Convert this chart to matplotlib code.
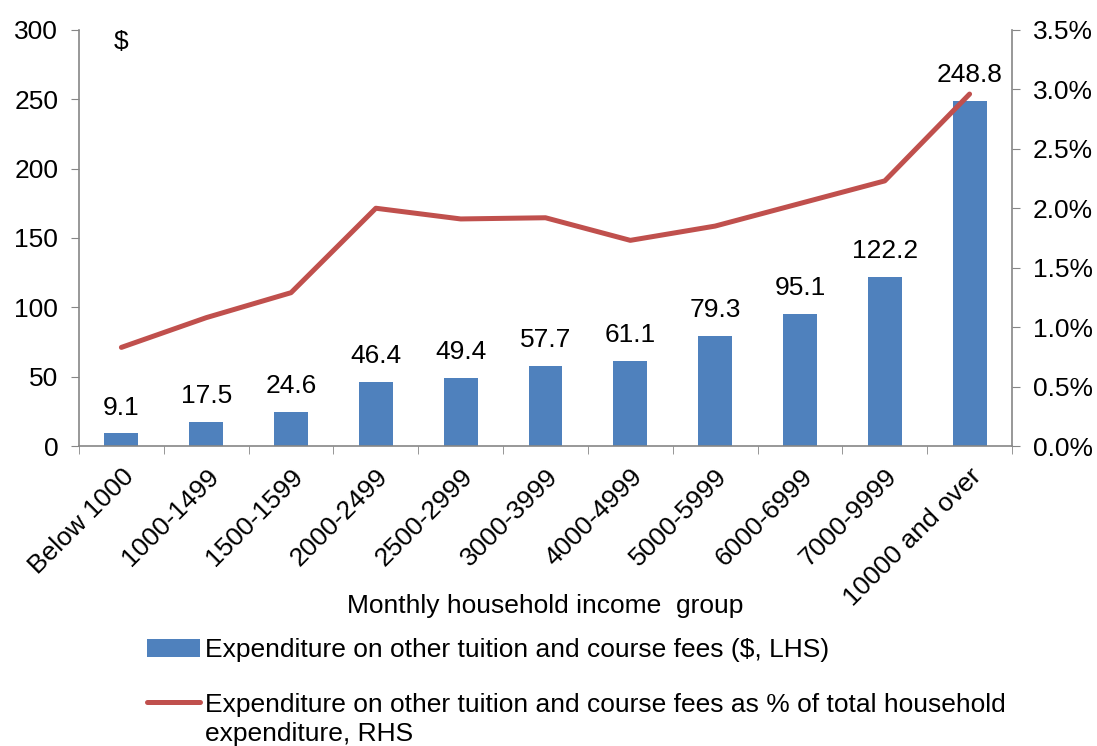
import matplotlib.pyplot as plt
import numpy as np
from matplotlib.ticker import FuncFormatter
from matplotlib.lines import Line2D

plt.rcParams['font.family'] = ['Liberation Sans', 'DejaVu Sans']

groups = ["Below 1000", "1000-1499", "1500-1599", "2000-2499", "2500-2999",
          "3000-3999", "4000-4999", "5000-5999", "6000-6999", "7000-9999",
          "10000 and over"]
spend = [9.1, 17.5, 24.6, 46.4, 49.4, 57.7, 61.1, 79.3, 95.1, 122.2, 248.8]
share = [0.83, 1.08, 1.29, 2.0, 1.91, 1.92, 1.73, 1.85, 2.04, 2.23, 2.96]

blue = "#4F81BD"
red = "#C0504D"
grey = "#868686"
fs = 19

fig = plt.figure(figsize=(10.97, 7.46), dpi=100)
ax = fig.add_axes([0.072, 0.402, 0.8505, 0.558])
x = np.arange(len(groups))

bars = ax.bar(x, spend, width=0.4, color=blue, zorder=2)
for xi, v in zip(x, spend):
    ax.annotate("%.1f" % v, (xi, v), xytext=(0, 10), textcoords="offset points",
                ha="center", va="bottom", fontsize=fs)

ax.set_xlim(-0.5, len(groups) - 0.5)
ax.set_ylim(0, 300)
ax.set_yticks(range(0, 301, 50))
ax.set_xticks(x)
ax.set_xticklabels(groups, rotation=45, ha="right", rotation_mode="anchor",
                   fontsize=fs)
ax.set_xticks(np.arange(-0.5, len(groups), 1), minor=True)
ax.tick_params(axis="x", which="major", length=0, pad=13)
ax.tick_params(axis="x", which="minor", length=6, color=grey, direction="out")
ax.tick_params(axis="y", labelsize=fs, length=6, color=grey, pad=9)
ax.text(0.5 / 11, 1.0, "$", transform=ax.transAxes, fontsize=fs,
        ha="center", va="top")
ax.set_xlabel("Monthly household income  group", fontsize=fs)
ax.xaxis.set_label_coords(0.5, -0.355)

ax2 = ax.twinx()
line, = ax2.plot(x, share, color=red, lw=3.6, solid_capstyle="round",
                 zorder=3)
ax2.set_ylim(0, 3.5)
ax2.set_yticks(np.arange(0, 3.51, 0.5))
ax2.yaxis.set_major_formatter(FuncFormatter(lambda v, p: "%.1f%%" % v))
ax2.tick_params(axis="y", labelsize=fs, length=6, color=grey, pad=9)

for a in (ax, ax2):
    a.spines["top"].set_visible(False)
    for s in ("left", "right", "bottom"):
        a.spines[s].set_color(grey)
        a.spines[s].set_linewidth(1.2)
ax.spines["right"].set_visible(False)
ax2.spines["left"].set_visible(False)
ax2.spines["bottom"].set_visible(False)

fig.legend([bars], ["Expenditure on other tuition and course fees ($, LHS)"],
           loc="center left", bbox_to_anchor=(0.122, 0.1287),
           frameon=False, fontsize=fs, handlelength=2.0,
           handletextpad=0.2, borderpad=0)
blank = Line2D([], [], color="none")
fig.legend([line, blank],
           ["Expenditure on other tuition and course fees as % of total household",
            "expenditure, RHS"],
           loc="center left", bbox_to_anchor=(0.122, 0.036),
           frameon=False, fontsize=fs, handlelength=2.0,
           handletextpad=0.2, borderpad=0, labelspacing=0.2)

fig.savefig("out.png", dpi=100)
